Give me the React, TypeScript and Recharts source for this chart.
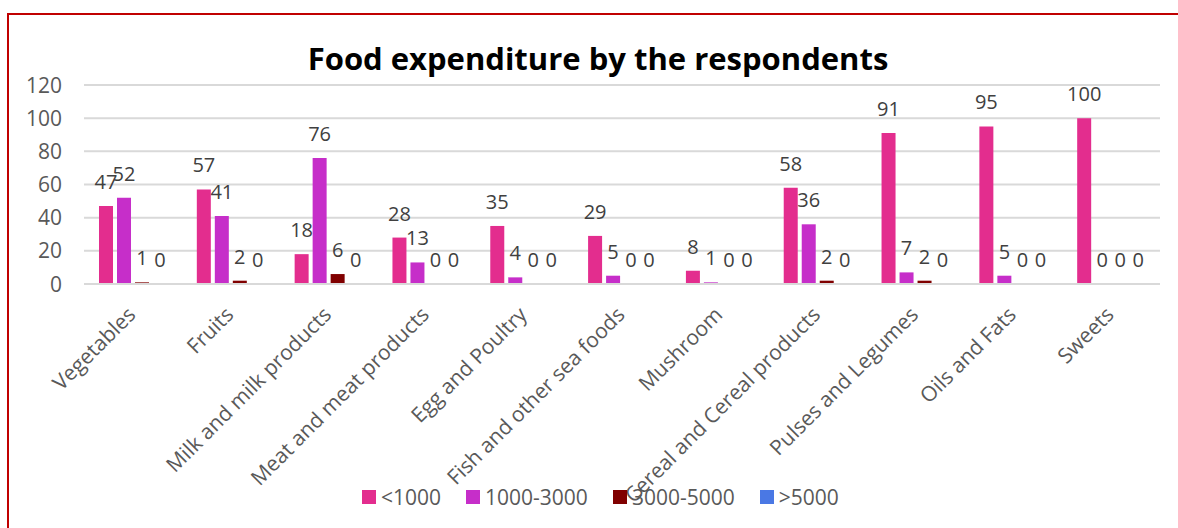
import React from 'react';
import { BarChart, Bar, XAxis, YAxis, CartesianGrid, LabelList } from 'recharts';

const categories = [
  'Vegetables',
  'Fruits',
  'Milk and milk products',
  'Meat and meat products',
  'Egg and Poultry',
  'Fish and other sea foods',
  'Mushroom',
  'Cereal and Cereal products',
  'Pulses and Legumes',
  'Oils and Fats',
  'Sweets',
];

const below1000 = [47, 57, 18, 28, 35, 29, 8, 58, 91, 95, 100];
const from1000to3000 = [52, 41, 76, 13, 4, 5, 1, 36, 7, 5, 0];
const from3000to5000 = [1, 2, 6, 0, 0, 0, 0, 2, 2, 0, 0];
const above5000 = [0, 0, 0, 0, 0, 0, 0, 0, 0, 0, 0];

const yTicks = [0, 20, 40, 60, 80, 100, 120];

const series = [
  { key: 'a', name: '<1000', color: '#E32D8E', values: below1000 },
  { key: 'b', name: '1000-3000', color: '#C62EC9', values: from1000to3000 },
  { key: 'c', name: '3000-5000', color: '#800000', values: from3000to5000 },
  { key: 'd', name: '>5000', color: '#4A78E4', values: above5000 },
];

const data = categories.map((name, i) => {
  const row: Record<string, string | number> = { name };
  series.forEach((s) => {
    row[s.key] = s.values[i];
  });
  return row;
});

const FONT = '"Open Sans", sans-serif';

const XTick = (props: any) => {
  const { x, y, payload } = props;
  return (
    <g transform={`translate(${x + 4},${y + 32}) rotate(-45)`}>
      <text x={0} y={0} textAnchor="end" fill="#595959" fontSize={21} fontFamily={FONT}>
        {payload.value}
      </text>
    </g>
  );
};

const YTick = (props: any) => {
  const { x, y, payload } = props;
  return (
    <text x={x - 22} y={y} dy="0.36em" textAnchor="end" fill="#595959" fontSize={21} fontFamily={FONT}>
      {payload.value}
    </text>
  );
};

export default function App() {
  return (
    <div style={{ position: 'absolute', left: 0, top: 0, width: 1178, height: 528, background: '#fff', overflow: 'hidden' }}>
      {/* red frame: only top and left edges are visible in the crop */}
      <div
        style={{
          position: 'absolute',
          left: 7,
          top: 13,
          width: 1300,
          height: 600,
          borderTop: '2px solid #C00000',
          borderLeft: '2px solid #C00000',
        }}
      />
      <div
        style={{
          position: 'absolute',
          left: 0,
          width: 1178,
          top: 36,
          textAlign: 'center',
          paddingLeft: 18,
          boxSizing: 'border-box',
          fontFamily: FONT,
          fontWeight: 700,
          fontSize: 31,
          lineHeight: '44px',
          color: '#000',
        }}
      >
        Food expenditure by the respondents
      </div>
      <div style={{ position: 'absolute', left: 0, top: 0 }}>
        <BarChart
          width={1178}
          height={528}
          data={data}
          margin={{ top: 85, right: 18, bottom: 214, left: 24 }}
          barSize={14}
          barGap={4}
        >
          <CartesianGrid vertical={false} stroke="#D9D9D9" strokeWidth={2} />
          <XAxis
            dataKey="name"
            interval={0}
            height={30}
            tickLine={false}
            tickSize={0}
            tickMargin={0}
            axisLine={{ stroke: '#D9D9D9', strokeWidth: 2 }}
            tick={<XTick />}
          />
          <YAxis
            width={60}
            domain={[0, 120]}
            ticks={yTicks}
            tickLine={false}
            tickSize={0}
            tickMargin={0}
            axisLine={false}
            tick={<YTick />}
          />
          {series.map((s) => (
            <Bar
              key={s.key}
              dataKey={s.key}
              name={s.name}
              fill={s.color}
              minPointSize={0.01}
              isAnimationActive={false}
            >
              <LabelList dataKey={s.key} position="top" offset={17} fill="#404040" fontSize={20} fontFamily={FONT} />
            </Bar>
          ))}
        </BarChart>
      </div>
      <div
        style={{
          position: 'absolute',
          left: 362,
          top: 483,
          display: 'flex',
          alignItems: 'center',
          fontFamily: FONT,
          fontSize: 21,
          color: '#595959',
          lineHeight: '28px',
        }}
      >
        {series.map((s) => (
          <div key={s.key} style={{ display: 'flex', alignItems: 'center', marginRight: 25 }}>
            <span style={{ display: 'inline-block', width: 14, height: 14, background: s.color, marginRight: 5 }} />
            <span>{s.name}</span>
          </div>
        ))}
      </div>
    </div>
  );
}
